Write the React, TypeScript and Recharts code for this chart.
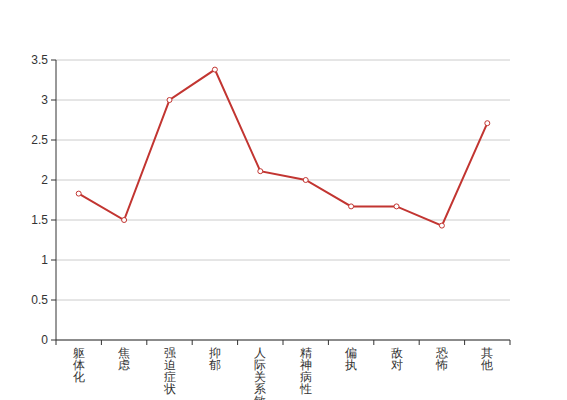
import React from 'react';
import { LineChart, Line, XAxis, YAxis, CartesianGrid } from 'recharts';

const categories = ['躯体化', '焦虑', '强迫症状', '抑郁', '人际关系敏感', '精神病性', '偏执', '敌对', '恐怖', '其他'];
const scores = [1.83, 1.5, 3.0, 3.38, 2.11, 2.0, 1.67, 1.67, 1.43, 2.71];
const yTicks = [0, 0.5, 1, 1.5, 2, 2.5, 3, 3.5];

const data = categories.map((name, i) => ({ name, value: scores[i] }));

const W = 567;
const H = 400;
const M = { top: 60, right: 57, left: 0, bottom: 0 };
const Y_W = 56;
const PLOT_W = W - M.left - M.right - Y_W;
const FONT = '"Liberation Sans", Arial, sans-serif';
const PLOT_BOTTOM = H - 60;

const XTick = (props: any) => {
  const { x, payload, index } = props;
  const half = PLOT_W / categories.length / 2;
  const chars = String(payload.value).split('');
  const axisY = PLOT_BOTTOM;
  return (
    <g>
      <line x1={x - half} y1={axisY} x2={x - half} y2={axisY + 5} stroke="#333" strokeWidth={1} />
      {index === categories.length - 1 && (
        <line x1={x + half} y1={axisY} x2={x + half} y2={axisY + 5} stroke="#333" strokeWidth={1} />
      )}
      <text x={x} y={axisY + 17} textAnchor="middle" fill="#333" fontSize={12} fontFamily={FONT}>
        {chars.map((c, i) => (
          <tspan key={i} x={x} dy={i === 0 ? 0 : 12}>
            {c}
          </tspan>
        ))}
      </text>
    </g>
  );
};

export default function App() {
  return (
    <div style={{ position: 'absolute', left: 0, top: 0, width: W, height: H, background: '#fff' }}>
      <LineChart width={W} height={H} data={data} margin={M}>
        <CartesianGrid vertical={false} stroke="#ccc" strokeDasharray="" />
        <XAxis
          dataKey="name"
          scale="band"
          interval={0}
          height={60}
          axisLine={{ stroke: '#333' }}
          tickLine={false}
          tick={<XTick />}
          tickMargin={0}
        />
        <YAxis
          width={Y_W}
          domain={[0, 3.5]}
          ticks={yTicks}
          interval={0}
          axisLine={{ stroke: '#333' }}
          tickLine={{ stroke: '#333' }}
          tickSize={5}
          tickMargin={3}
          tick={{ fill: '#333', fontSize: 12, fontFamily: FONT }}
        />
        <Line
          type="linear"
          dataKey="value"
          stroke="#c23531"
          strokeWidth={2}
          dot={{ r: 2.5, fill: '#fff', stroke: '#c23531', strokeWidth: 1 }}
          isAnimationActive={false}
        />
      </LineChart>
    </div>
  );
}
